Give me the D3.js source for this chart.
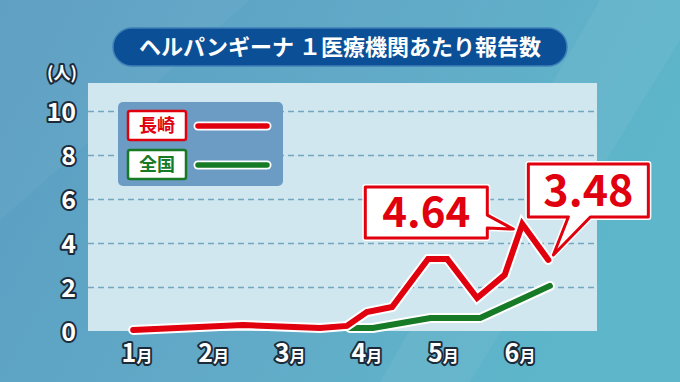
<!DOCTYPE html>
<html>
<head>
<meta charset="utf-8">
<script src="https://cdn.jsdelivr.net/npm/d3@7"></script>
<style>
  html, body { margin: 0; padding: 0; overflow: hidden; }
  svg { display: block; }
  text { font-family: "Noto Sans CJK JP", "Noto Sans", sans-serif; font-weight: bold; }
</style>
</head>
<body>
<div class="container"></div>
<script>
// data
var title = "ヘルパンギーナ １医療機関あたり報告数";
var unitLabel = "(人)";
var months = ["1", "2", "3", "4", "5", "6"];
var monthPos = [1, 2, 3, 4, 5, 6];
var yTicks = [0, 2, 4, 6, 8, 10];

// x in month units (1 = 1月 label), y in persons
var nagasakiX = [0.95, 2.38, 3.39, 3.74, 4.0, 4.33, 4.8, 5.05, 5.44, 5.8, 6.03, 6.37];
var nagasakiY = [0.05, 0.27, 0.14, 0.23, 0.86, 1.09, 3.27, 3.27, 1.5, 2.55, 4.86, 3.23];
var zenkokuX = [3.78, 4.08, 4.83, 5.48, 6.39];
var zenkokuY = [0.14, 0.14, 0.59, 0.59, 2.05];

var seriesNames = ["長崎", "全国"];
var calloutText = ["4.64", "3.48"];

var RED = "#e0000e", GREEN = "#167a26";

!function () {
    var W = 680, H = 382;
    var svg = d3.select('.container')
        .append('svg')
        .attr('width', W)
        .attr('height', H);

    var defs = svg.append('defs');
    var bg = defs.append('linearGradient').attr('id', 'bg')
        .attr('x1', 0).attr('y1', 0).attr('x2', 1).attr('y2', 0.3);
    bg.append('stop').attr('offset', 0).attr('stop-color', '#5a9dc1');
    bg.append('stop').attr('offset', 0.6).attr('stop-color', '#62abc8');
    bg.append('stop').attr('offset', 1).attr('stop-color', '#5db6ca');

    svg.append('rect').attr('width', W).attr('height', H).attr('fill', 'url(#bg)');
    // soft diagonal facets
    svg.append('polygon').attr('points', '600,0 680,0 680,40 470,382 380,382')
        .attr('fill', '#ffffff').attr('opacity', 0.05);
    svg.append('polygon').attr('points', '0,0 250,0 0,220')
        .attr('fill', '#ffffff').attr('opacity', 0.04);

    // title pill
    svg.append('rect')
        .attr('x', 113).attr('y', 28).attr('width', 454).attr('height', 38)
        .attr('rx', 19)
        .attr('fill', '#0b4f96')
        .attr('stroke', '#3f7fb8').attr('stroke-width', 1.5);
    svg.append('text')
        .attr('x', 340).attr('y', 55)
        .attr('text-anchor', 'middle')
        .attr('font-size', 22)
        .attr('font-weight', 900)
        .attr('fill', '#fff')
        .text(title);

    var x = d3.scaleLinear().domain([1, 6]).range([137, 520]);
    var y = d3.scaleLinear().domain([0, 10]).range([331, 111]);

    // plot panel
    svg.append('rect')
        .attr('x', 88).attr('y', 83).attr('width', 509).attr('height', 248)
        .attr('fill', '#d0e7ef');

    // gridlines
    var grid = d3.axisLeft(y)
        .tickValues(yTicks.filter(function (d) { return d > 0; }))
        .tickSize(-509)
        .tickFormat('');
    var gg = svg.append('g')
        .attr('transform', 'translate(88,0)')
        .call(grid);
    gg.select('.domain').remove();
    gg.selectAll('line')
        .attr('stroke', '#74a6c0')
        .attr('stroke-width', 1.3)
        .attr('stroke-dasharray', '6,4');

    // y labels
    function outlined(sel) {
        return sel.attr('fill', '#fff')
            .attr('stroke', '#1c2b3a')
            .attr('stroke-width', 4)
            .attr('stroke-linejoin', 'round')
            .attr('paint-order', 'stroke')
            .attr('font-weight', 900);
    }
    svg.selectAll('.ylab')
        .data(yTicks)
        .enter()
        .append('text')
        .attr('class', 'ylab')
        .attr('x', 76)
        .attr('y', function (d) { return y(d) + 10; })
        .attr('text-anchor', 'end')
        .attr('font-size', 25)
        .call(outlined)
        .text(function (d) { return d; });
    svg.append('text')
        .attr('x', 62).attr('y', 79)
        .attr('text-anchor', 'middle')
        .attr('font-size', 17)
        .call(outlined)
        .text(unitLabel);

    // x labels
    var xl = svg.selectAll('.xlab')
        .data(monthPos)
        .enter()
        .append('text')
        .attr('class', 'xlab')
        .attr('x', function (d) { return x(d); })
        .attr('y', 362)
        .attr('text-anchor', 'middle')
        .call(outlined);
    xl.append('tspan').attr('font-size', 25).text(function (d, i) { return months[i]; });
    xl.append('tspan').attr('font-size', 16).text('月');

    // legend
    var lg = svg.append('g');
    lg.append('rect')
        .attr('x', 118).attr('y', 102).attr('width', 165).attr('height', 84)
        .attr('rx', 5)
        .attr('fill', '#6c9bc3');
    [RED, GREEN].forEach(function (c, i) {
        var cy = [126, 165][i];
        lg.append('rect')
            .attr('x', 128).attr('y', cy - 15).attr('width', 58).attr('height', 29)
            .attr('rx', 2)
            .attr('fill', '#fff')
            .attr('stroke', c).attr('stroke-width', 2.5);
        lg.append('text')
            .attr('x', 157).attr('y', cy + 6)
            .attr('text-anchor', 'middle')
            .attr('font-size', 18)
            .attr('font-weight', 900)
            .attr('fill', c)
            .text(seriesNames[i]);
        lg.append('line')
            .attr('x1', 198).attr('x2', 267).attr('y1', cy).attr('y2', cy)
            .attr('stroke', '#fff').attr('stroke-width', 9).attr('stroke-linecap', 'round');
        lg.append('line')
            .attr('x1', 198).attr('x2', 267).attr('y1', cy).attr('y2', cy)
            .attr('stroke', c).attr('stroke-width', 5.5).attr('stroke-linecap', 'round');
    });

    // lines
    var line = d3.line()
        .x(function (d) { return x(d[0]); })
        .y(function (d) { return y(d[1]); });
    var zen = d3.zip(zenkokuX, zenkokuY);
    var nag = d3.zip(nagasakiX, nagasakiY);

    [[zen, GREEN], [nag, RED]].forEach(function (s) {
        svg.append('path')
            .attr('d', line(s[0]))
            .attr('fill', 'none')
            .attr('stroke', '#fff')
            .attr('stroke-width', 10)
            .attr('stroke-linejoin', 'miter')
            .attr('stroke-linecap', 'round');
        svg.append('path')
            .attr('d', line(s[0]))
            .attr('fill', 'none')
            .attr('stroke', s[1])
            .attr('stroke-width', 6)
            .attr('stroke-linejoin', 'miter')
            .attr('stroke-linecap', 'round');
    });

    // callouts: box relative to anchor point, tail toward it
    function callout(px, py, box, tail, txt, fs) {
        var x0 = px + box[0], y0 = py + box[1], x1 = px + box[2], y1 = py + box[3];
        var tip = [px + tail.tip[0], py + tail.tip[1]];
        var p = d3.path();
        p.moveTo(x0, y0);
        p.lineTo(x1, y0);
        if (tail.side === 'right') {
            p.lineTo(x1, py + tail.a);
            p.lineTo(tip[0], tip[1]);
            p.lineTo(x1, py + tail.b);
            p.lineTo(x1, y1);
            p.lineTo(x0, y1);
        } else {
            p.lineTo(x1, y1);
            p.lineTo(px + tail.a, y1);
            p.lineTo(tip[0], tip[1]);
            p.lineTo(px + tail.b, y1);
            p.lineTo(x0, y1);
        }
        p.closePath();
        svg.append('path').attr('d', p.toString())
            .attr('fill', 'none').attr('stroke', '#fff').attr('stroke-width', 6)
            .attr('stroke-linejoin', 'round');
        svg.append('path').attr('d', p.toString())
            .attr('fill', '#fff').attr('stroke', RED).attr('stroke-width', 3)
            .attr('stroke-linejoin', 'round');
        svg.append('text')
            .attr('x', (x0 + x1) / 2).attr('y', y1 - 11)
            .attr('text-anchor', 'middle')
            .attr('font-size', fs)
            .attr('font-weight', 900)
            .attr('fill', RED)
            .text(txt);
    }

    var pk = nag[10], last = nag[11];
    callout(x(pk[0]), y(pk[1]), [-157, -37, -35, 14],
        {side: 'right', a: -9, b: 4, tip: [-9, 5]}, calloutText[0], 42);
    callout(x(last[0]), y(last[1]), [-20, -96, 100, -43],
        {side: 'bottom', a: 42, b: 20, tip: [5, -5]}, calloutText[1], 43);
}();
</script>
</body>
</html>
